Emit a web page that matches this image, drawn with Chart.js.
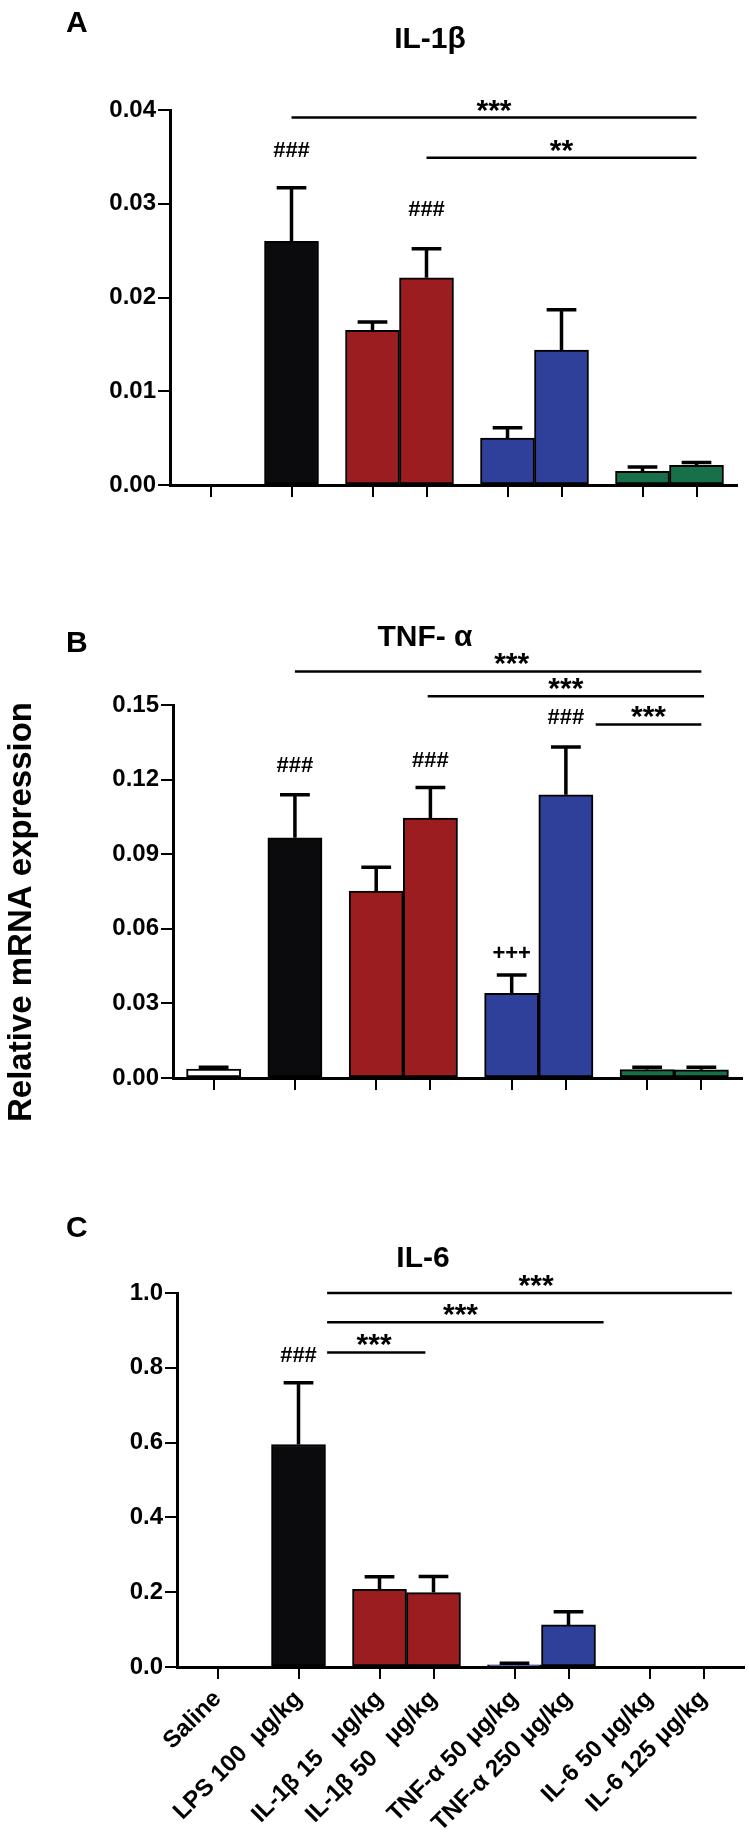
<!DOCTYPE html>
<html>
<head>
<meta charset="utf-8">
<script src="https://cdn.jsdelivr.net/npm/chart.js@4.4.1/dist/chart.umd.min.js"></script>
<style>
    body { margin: 0; background: #fff; }
    #figura { position: relative; width: 749px; height: 1838px; }
    canvas { position: absolute; left: 0; }
</style>
</head>
<body>
<div id="figura">
    <canvas id="graficoIL1b" width="749" height="560" style="top:0px"></canvas>
    <canvas id="graficoTNF" width="749" height="600" style="top:560px"></canvas>
    <canvas id="graficoIL6" width="749" height="718" style="top:1120px"></canvas>
</div>
<script>
const grupos = ['Saline', 'LPS 100  μg/kg', 'IL-1β 15   μg/kg', 'IL-1β 50   μg/kg',
    'TNF-α 50 μg/kg', 'TNF-α 250 μg/kg', 'IL-6 50 μg/kg', 'IL-6 125 μg/kg'];
// grupo de tratamento de cada barra (define cor e espacamento)
const tratamento = [0, 1, 2, 2, 3, 3, 4, 4];
const cores = ['#ffffff', '#0b0b0d', '#9b1d20', '#2e409a', '#17704a'];

const il1bMedia = [0, 0.0260, 0.0165, 0.0221, 0.0050, 0.0144, 0.00145, 0.0021];
const il1bErro = [0, 0.0057, 0.0009, 0.0031, 0.0011, 0.0043, 0.00046, 0.0003];
const il1bTicks = [0, 0.01, 0.02, 0.03, 0.04];

const tnfMedia = [0.0036, 0.0966, 0.0752, 0.1045, 0.0340, 0.1139, 0.0034, 0.0033];
const tnfErro = [0.0007, 0.0173, 0.0096, 0.0123, 0.0074, 0.0192, 0.0009, 0.0010];
const tnfTicks = [0, 0.03, 0.06, 0.09, 0.12, 0.15];

const il6Media = [0, 0.595, 0.208, 0.199, 0.006, 0.1125, 0, 0];
const il6Erro = [0, 0.165, 0.033, 0.043, 0.004, 0.0355, 0, 0];
const il6Ticks = [0, 0.2, 0.4, 0.6, 0.8, 1.0];

// linhas de significancia (de/ate em unidades do eixo x)
const sigIL1b = [
    { de: 3, ate: 18, y: 0.0392, texto: '***' },
    { de: 8, ate: 18, y: 0.0349, texto: '**' }
];
const marcasIL1b = [
    { barra: 1, y: 0.0356, texto: '###' },
    { barra: 3, y: 0.0293, texto: '###' }
];

const sigTNF = [
    { de: 3, ate: 18, y: 0.1635, texto: '***', tx: 11 },
    { de: 7.9, ate: 18.1, y: 0.1535, texto: '***' },
    { de: 14.1, ate: 18, y: 0.1422, texto: '***' }
];
const marcasTNF = [
    { barra: 1, y: 0.1254, texto: '###' },
    { barra: 3, y: 0.1274, texto: '###' },
    { barra: 5, y: 0.1446, texto: '###' },
    { barra: 4, y: 0.050, texto: '+++' }
];

const sigIL6 = [
    { de: 4.06, ate: 19.05, y: 1.0, texto: '***', tx: 11.8 },
    { de: 4.06, ate: 14.3, y: 0.922, texto: '***', tx: 9 },
    { de: 4.06, ate: 7.7, y: 0.841, texto: '***', tx: 5.8 }
];
const marcasIL6 = [
    { barra: 1, y: 0.831, texto: '###' }
];

const FONTE = '"Liberation Sans", Arial, Helvetica, sans-serif';
const posicoes = grupos.map((g, i) => 2 * i + tratamento[i]);

function pluginErros(medias, erros) {
    return {
        id: 'barrasErro',
        afterDatasetsDraw(chart) {
            const ctx = chart.ctx;
            const x = chart.scales.x;
            const y = chart.scales.y;
            const meia = x.getPixelForValue(0.55) - x.getPixelForValue(0);
            ctx.save();
            ctx.strokeStyle = '#000';
            ctx.lineWidth = 3.5;
            erros.forEach((e, i) => {
                if (!e) return;
                const px = x.getPixelForValue(posicoes[i]);
                const base = y.getPixelForValue(medias[i]);
                const topo = y.getPixelForValue(medias[i] + e);
                ctx.beginPath();
                ctx.moveTo(px, base);
                ctx.lineTo(px, topo);
                ctx.moveTo(px - meia, topo);
                ctx.lineTo(px + meia, topo);
                ctx.stroke();
            });
            ctx.restore();
        }
    };
}

function pluginTextos(cfg) {
    return {
        id: 'textos',
        afterDraw(chart) {
            const ctx = chart.ctx;
            const x = chart.scales.x;
            const y = chart.scales.y;
            ctx.save();
            ctx.fillStyle = '#000';
            ctx.strokeStyle = '#000';

            ctx.font = 'bold 30px ' + FONTE;
            ctx.textAlign = 'left';
            ctx.textBaseline = 'alphabetic';
            ctx.fillText(cfg.letra, 66, cfg.letraY);

            ctx.font = 'bold 30px ' + FONTE;
            ctx.textAlign = 'center';
            ctx.fillText(cfg.titulo, cfg.tituloX, cfg.tituloY);

            ctx.lineWidth = 2.5;
            cfg.sig.forEach(s => {
                const py = y.getPixelForValue(s.y);
                ctx.beginPath();
                ctx.moveTo(x.getPixelForValue(s.de), py);
                ctx.lineTo(x.getPixelForValue(s.ate), py);
                ctx.stroke();
                const tx = s.tx !== undefined ? s.tx : (s.de + s.ate) / 2;
                ctx.font = 'bold 30px ' + FONTE;
                ctx.textBaseline = 'alphabetic';
                ctx.fillText(s.texto, x.getPixelForValue(tx), py + 2);
            });

            ctx.font = 'bold 22px ' + FONTE;
            ctx.textBaseline = 'middle';
            cfg.marcas.forEach(m => {
                ctx.fillText(m.texto, x.getPixelForValue(posicoes[m.barra]), y.getPixelForValue(m.y));
            });

            if (cfg.eixoY) {
                ctx.translate(cfg.eixoY.x, cfg.eixoY.y);
                ctx.rotate(-Math.PI / 2);
                ctx.font = 'bold 33px ' + FONTE;
                ctx.fillText(cfg.eixoY.texto, 0, 0);
            }
            ctx.restore();
        }
    };
}

function montarGrafico(id, medias, erros, ticksY, casas, caixa, textos) {
    return new Chart(document.getElementById(id), {
        type: 'bar',
        data: {
            datasets: [{
                data: medias.map((m, i) => ({ x: posicoes[i], y: m })),
                backgroundColor: tratamento.map(t => cores[t]),
                borderColor: '#000',
                borderWidth: 2,
                borderSkipped: false,
                categoryPercentage: 1,
                barPercentage: 1
            }]
        },
        options: {
            responsive: false,
            animation: false,
            events: [],
            layout: {
                padding: { top: caixa.topo, right: caixa.direita, left: 0, bottom: 0 }
            },
            plugins: {
                legend: { display: false },
                tooltip: { enabled: false }
            },
            scales: {
                x: {
                    type: 'linear',
                    min: -1.5,
                    max: 19.5,
                    offset: false,
                    afterBuildTicks: s => { s.ticks = posicoes.map(v => ({ value: v })); },
                    afterFit: s => { s.height = caixa.alturaX; },
                    ticks: {
                        display: caixa.rotulos,
                        autoSkip: false,
                        minRotation: 45,
                        maxRotation: 45,
                        padding: 6,
                        color: '#000',
                        font: { size: 24, weight: 'bold', family: FONTE },
                        callback: (v, i) => grupos[i]
                    },
                    grid: { offset: false, drawOnChartArea: false, color: '#000', lineWidth: 2, tickLength: 12 },
                    border: { color: '#000', width: 3 }
                },
                y: {
                    min: ticksY[0],
                    max: ticksY[ticksY.length - 1],
                    afterBuildTicks: s => { s.ticks = ticksY.map(v => ({ value: v })); },
                    afterFit: s => { s.width = caixa.larguraY; },
                    ticks: {
                        padding: 2,
                        color: '#000',
                        font: { size: 24, weight: 'bold', family: FONTE },
                        callback: v => v.toFixed(casas)
                    },
                    grid: { drawOnChartArea: false, color: '#000', lineWidth: 2, tickLength: 12 },
                    border: { color: '#000', width: 3 }
                }
            }
        },
        plugins: [pluginErros(medias, erros), pluginTextos(textos)]
    });
}

montarGrafico('graficoIL1b', il1bMedia, il1bErro, il1bTicks, 2,
    { topo: 110, direita: 12, larguraY: 170, alturaX: 75, rotulos: false },
    { letra: 'A', letraY: 32, titulo: 'IL-1β', tituloX: 430, tituloY: 48, sig: sigIL1b, marcas: marcasIL1b });

montarGrafico('graficoTNF', tnfMedia, tnfErro, tnfTicks, 2,
    { topo: 145, direita: 7, larguraY: 173, alturaX: 82, rotulos: false },
    { letra: 'B', letraY: 92, titulo: 'TNF- α', tituloX: 425, tituloY: 86, sig: sigTNF, marcas: marcasTNF,
      eixoY: { x: 22, y: 352, texto: 'Relative mRNA expression' } });

montarGrafico('graficoIL6', il6Media, il6Erro, il6Ticks, 1,
    { topo: 173, direita: 5, larguraY: 177, alturaX: 171, rotulos: true },
    { letra: 'C', letraY: 117, titulo: 'IL-6', tituloX: 423, tituloY: 147, sig: sigIL6, marcas: marcasIL6 });
</script>
</body>
</html>
